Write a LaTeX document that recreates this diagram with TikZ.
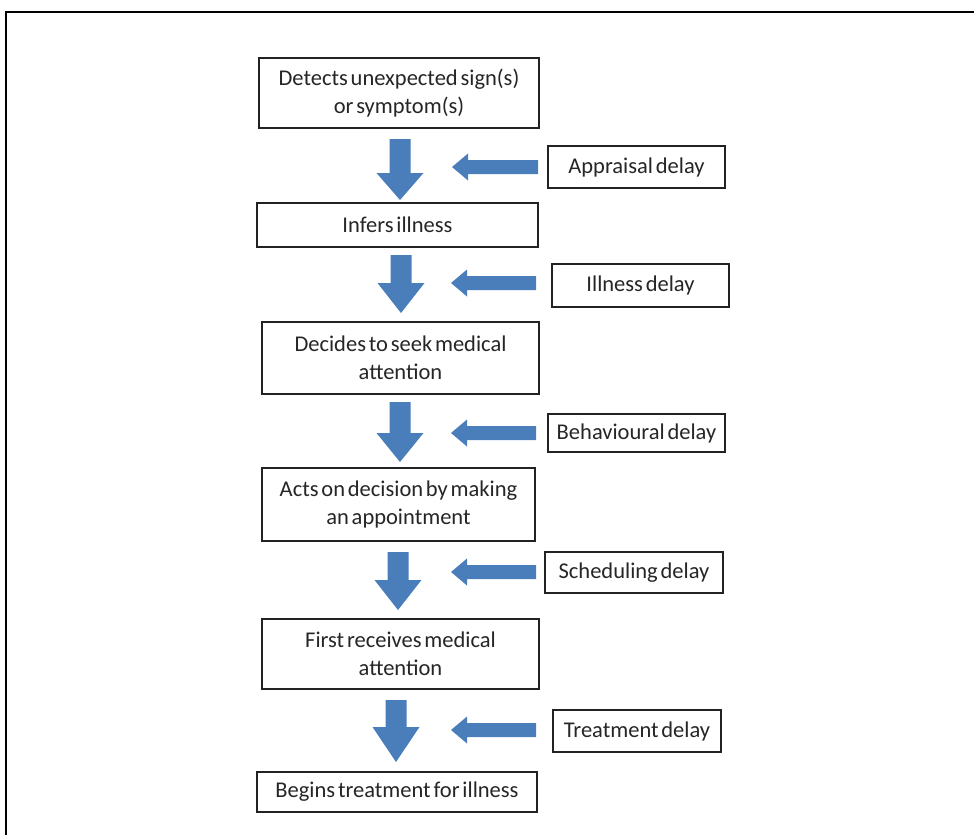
\documentclass[tikz,border=0pt]{standalone}
\usepackage{fontspec}
\setmainfont{Carlito}[WordSpace=0.55]
\usetikzlibrary{calc}
\definecolor{arrowblue}{RGB}{74,126,187}
\definecolor{boxline}{RGB}{34,34,34}
\tikzset{
  stage/.style={draw=boxline, line width=1.8pt, fill=white, align=center,
    inner sep=0pt, font=\fontsize{22.5}{28}\selectfont, text=black!85},
  delaybox/.style={stage},
  blk/.style={fill=arrowblue, draw=none}
}
% vertical block arrow: #1 = top point, #2 = tip point, #3 = head length
\newcommand\blockdown[3]{%
  \fill[blk] let \p1=(#1), \p2=(#2) in
    (\x1-10.5,\y1) -- (\x1+10.5,\y1) -- (\x1+10.5,\y2+#3) -- (\x1+23.5,\y2+#3)
    -- (\x1,\y2) -- (\x1-23.5,\y2+#3) -- (\x1-10.5,\y2+#3) -- cycle;}
% horizontal block arrow pointing left: #1 = tail point, #2 = tip point
\newcommand\blockleft[2]{%
  \fill[blk] let \p1=(#1), \p2=(#2) in
    (\x1,\y1+7) -- (\x2+16,\y1+7) -- (\x2+16,\y1+13.5) -- (\x2,\y1)
    -- (\x2+16,\y1-13.5) -- (\x2+16,\y1-7) -- (\x1,\y1-7) -- cycle;}
\begin{document}
\begin{tikzpicture}[x=1pt,y=-1pt]
\useasboundingbox (0,0) rectangle (974,835);
% page frame (top and left edges)
\draw[line width=2.6pt, black] (6,835) -- (6,12) -- (974,12);

% stages
\node[stage, minimum width=280pt, minimum height=70pt] (s1) at (399,93)
  {Detects unexpected sign(s)\\or symptom(s)};
\node[stage, minimum width=281pt, minimum height=44pt] (s2) at (397.5,225)
  {Infers illness};
\node[stage, minimum width=277pt, minimum height=72pt] (s3) at (400.5,358)
  {Decides to seek medical\\attention};
\node[stage, minimum width=273pt, minimum height=73pt] (s4) at (398.5,504.5)
  {Acts on decision by making\\an appointment};
\node[stage, minimum width=277pt, minimum height=70pt] (s5) at (400.5,654)
  {First receives medical\\attention};
\node[stage, minimum width=280pt, minimum height=40pt] (s6) at (397,792)
  {Begins treatment for illness};

% delays
\node[delaybox, minimum width=177pt, minimum height=42pt] (d1) at (636.5,167) {Appraisal delay};
\node[delaybox, minimum width=177pt, minimum height=43pt] (d2) at (640.5,285.5) {Illness delay};
\node[delaybox, minimum width=177pt, minimum height=38pt] (d3) at (636.5,433) {Behavioural delay};
\node[delaybox, minimum width=178pt, minimum height=41pt] (d4) at (634,572.5) {Scheduling delay};
\node[delaybox, minimum width=168pt, minimum height=42pt] (d5) at (637,731) {Treatment delay};

% flow between stages
\coordinate (a1t) at (400,139);  \coordinate (a1h) at (400,200);
\coordinate (a2t) at (401,255);  \coordinate (a2h) at (401,313);
\coordinate (a3t) at (400,402);  \coordinate (a3h) at (400,462);
\coordinate (a4t) at (398,552);  \coordinate (a4h) at (398,610);
\coordinate (a5t) at (396,700);  \coordinate (a5h) at (396,762);
\blockdown{a1t}{a1h}{27}
\blockdown{a2t}{a2h}{30}
\blockdown{a3t}{a3h}{29}
\blockdown{a4t}{a4h}{30}
\blockdown{a5t}{a5h}{35}

% delays acting on the flow
\coordinate (l1t) at (538,167);  \coordinate (l1h) at (452,167);
\coordinate (l2t) at (536,283);  \coordinate (l2h) at (451,283);
\coordinate (l3t) at (536,433);  \coordinate (l3h) at (451,433);
\coordinate (l4t) at (536,572);  \coordinate (l4h) at (451,572);
\coordinate (l5t) at (536,730);  \coordinate (l5h) at (451,730);
\blockleft{l1t}{l1h}
\blockleft{l2t}{l2h}
\blockleft{l3t}{l3h}
\blockleft{l4t}{l4h}
\blockleft{l5t}{l5h}
\end{tikzpicture}
\end{document}
